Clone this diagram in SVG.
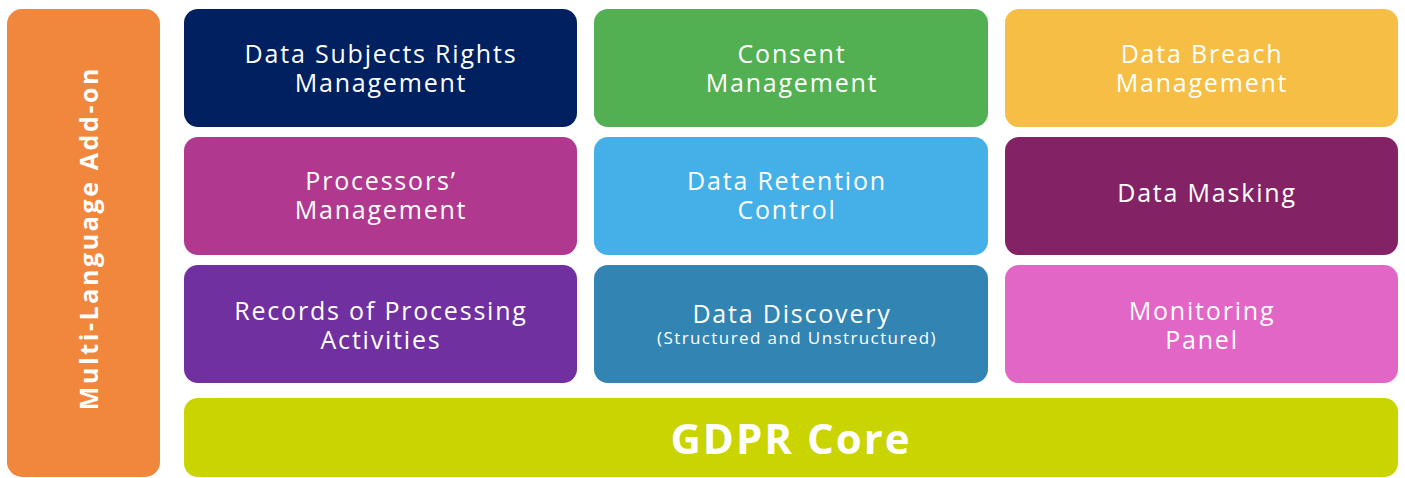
<svg xmlns="http://www.w3.org/2000/svg" width="1405" height="478" viewBox="0 0 1405 478">
<style>
.t{font-family:"Open Sans","Liberation Sans",sans-serif;fill:#fff;font-size:25px;letter-spacing:1.8px;text-anchor:middle;dominant-baseline:central}
.s{font-size:17px;letter-spacing:1.4px}
.b{font-weight:bold}
</style>
<rect width="1405" height="478" fill="#fff"/>
<g id="addon"><rect x="7" y="9" width="153" height="468" rx="15" fill="#F0873D"/><text class="t b" transform="translate(88 238) rotate(-90)" style="letter-spacing:2.6px">Multi-Language Add-on</text></g>
<g id="dsr"><rect x="184" y="9" width="393" height="118" rx="14" fill="#00205F"/><text class="t" x="381" y="53">Data Subjects Rights</text><text class="t" x="381" y="82">Management</text></g>
<g id="consent"><rect x="594" y="9" width="394" height="118" rx="14" fill="#52B052"/><text class="t" x="792" y="53">Consent</text><text class="t" x="792" y="82">Management</text></g>
<g id="breach"><rect x="1005" y="9" width="393" height="118" rx="14" fill="#F6BE45"/><text class="t" x="1202" y="53">Data Breach</text><text class="t" x="1202" y="82">Management</text></g>
<g id="processors"><rect x="184" y="137" width="393" height="118" rx="14" fill="#B0398F"/><text class="t" x="381" y="180">Processors’</text><text class="t" x="381" y="209">Management</text></g>
<g id="retention"><rect x="594" y="137" width="394" height="118" rx="14" fill="#45B0E8"/><text class="t" x="787" y="180">Data Retention</text><text class="t" x="787" y="209">Control</text></g>
<g id="masking"><rect x="1005" y="137" width="393" height="118" rx="14" fill="#832366"/><text class="t" x="1207" y="192">Data Masking</text></g>
<g id="records"><rect x="184" y="265" width="393" height="118" rx="14" fill="#7030A0"/><text class="t" x="381" y="310">Records of Processing</text><text class="t" x="381" y="339">Activities</text></g>
<g id="discovery"><rect x="594" y="265" width="394" height="118" rx="14" fill="#3284B2"/><text class="t" x="792" y="313">Data Discovery</text><text class="t s" x="797" y="337">(Structured and Unstructured)</text></g>
<g id="monitoring"><rect x="1005" y="265" width="393" height="118" rx="14" fill="#E266C5"/><text class="t" x="1202" y="310">Monitoring</text><text class="t" x="1202" y="339">Panel</text></g>
<g id="core"><rect x="184" y="398" width="1214" height="79" rx="14" fill="#C9D400"/><text class="t b" x="791" y="437" style="font-size:42px;letter-spacing:2px">GDPR Core</text></g>
<g id="connectors"/>
</svg>
